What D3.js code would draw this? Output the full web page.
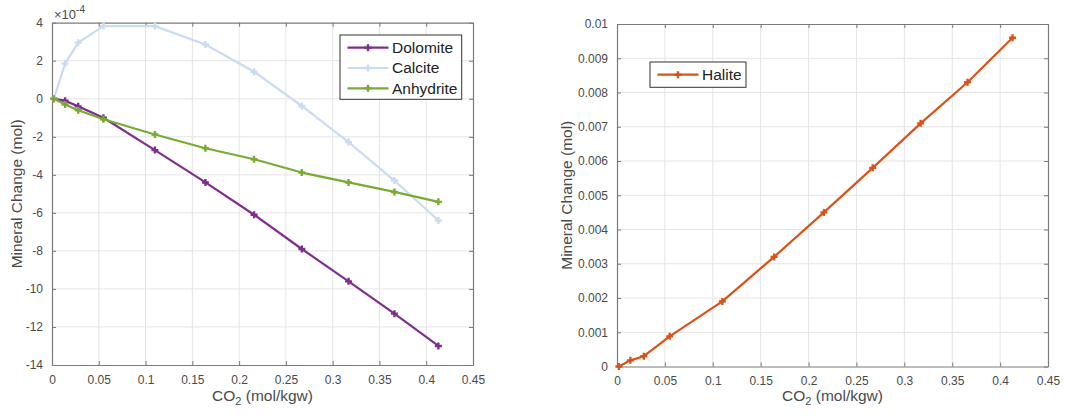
<!DOCTYPE html>
<html><head><meta charset="utf-8">
<script src="https://cdn.jsdelivr.net/npm/d3@7"></script>
<style>body{margin:0;background:#fff;} text{font-family:"Liberation Sans",Arial,sans-serif;}</style>
</head><body>
<svg id="c" width="1069" height="415"></svg>
<script>
const co2 = [0.002, 0.014, 0.028, 0.055, 0.110, 0.164, 0.216, 0.267, 0.317, 0.366, 0.413];
// left panel values (x 1e-4 mol)
const dolomite  = [0, -0.1, -0.4, -1.0, -2.7, -4.4, -6.1, -7.9, -9.6, -11.3, -13.0];
const calcite   = [0, 1.85, 2.95, 3.82, 3.82, 2.85, 1.42, -0.38, -2.28, -4.3, -6.4];
const anhydrite = [0, -0.3, -0.6, -1.08, -1.88, -2.6, -3.18, -3.88, -4.4, -4.9, -5.42];
// right panel values (mol)
const halite    = [0, 0.00018, 0.0003, 0.00088, 0.0019, 0.0032, 0.0045, 0.0058, 0.0071, 0.0083, 0.0096];

const xTicks = [0, 0.05, 0.1, 0.15, 0.2, 0.25, 0.3, 0.35, 0.4, 0.45];
const xTickLabels = ["0","0.05","0.1","0.15","0.2","0.25","0.3","0.35","0.4","0.45"];
const yTicksL = [4, 2, 0, -2, -4, -6, -8, -10, -12, -14];
const yTicksR = [0, 0.001, 0.002, 0.003, 0.004, 0.005, 0.006, 0.007, 0.008, 0.009, 0.01];
const yTickLabelsR = ["0","0.001","0.002","0.003","0.004","0.005","0.006","0.007","0.008","0.009","0.01"];

const seriesL = [
  {name:"Dolomite", values:dolomite, color:"#7E2F8E"},
  {name:"Calcite", values:calcite, color:"#C9DCF3"},
  {name:"Anhydrite", values:anhydrite, color:"#77AC30"}
];
const seriesR = [{name:"Halite", values:halite, color:"#D95319"}];

const svg = d3.select("#c");
const AX = "#7a7a7a", TXT = "#4a4a4a", GRID = "#e4e4e4";

function panel(o){
  const g = svg.append("g");
  const x = d3.scaleLinear().domain([0,0.45]).range([o.x0,o.x1]);
  const y = d3.scaleLinear().domain(o.ydom).range([o.y1,o.y0]);
  // grid
  g.append("g").selectAll("line").data(o.xt.slice(1,-1)).join("line")
    .attr("x1",d=>x(d)).attr("x2",d=>x(d)).attr("y1",o.y0).attr("y2",o.y1)
    .attr("stroke",GRID).attr("stroke-width",1);
  g.append("g").selectAll("line").data(o.yt.filter(d=>d!==o.ydom[0]&&d!==o.ydom[1])).join("line")
    .attr("x1",o.x0).attr("x2",o.x1).attr("y1",d=>y(d)).attr("y2",d=>y(d))
    .attr("stroke",GRID).attr("stroke-width",1);
  // axes
  const fmtX = d=>o.xl[o.xt.indexOf(d)];
  const fmtY = d=>o.yl ? o.yl[o.yt.indexOf(d)] : String(d);
  const ax = [
    g.append("g").attr("transform",`translate(0,${o.y1})`).call(d3.axisBottom(x).tickValues(o.xt).tickFormat(fmtX).tickSizeInner(-4).tickSizeOuter(0).tickPadding(10)),
    g.append("g").attr("transform",`translate(0,${o.y0})`).call(d3.axisTop(x).tickValues(o.xt).tickFormat("").tickSizeInner(-4).tickSizeOuter(0)),
    g.append("g").attr("transform",`translate(${o.x0},0)`).call(d3.axisLeft(y).tickValues(o.yt).tickFormat(fmtY).tickSizeInner(-4).tickSizeOuter(0).tickPadding(9)),
    g.append("g").attr("transform",`translate(${o.x1},0)`).call(d3.axisRight(y).tickValues(o.yt).tickFormat("").tickSizeInner(-4).tickSizeOuter(0))
  ];
  ax.forEach(a=>{
    a.selectAll("path").attr("stroke",AX).attr("stroke-width",1.2);
    a.selectAll("line").attr("stroke",AX);
    a.selectAll("text").attr("fill",TXT).style("font-size","12px").style("font-family","Liberation Sans, Arial, sans-serif");
  });
  // lines
  const line = d3.line().x((d,i)=>x(co2[i])).y(d=>y(d));
  o.series.forEach(s=>{
    g.append("path").datum(s.values).attr("d",line).attr("fill","none")
      .attr("stroke",s.color).attr("stroke-width",2.2).attr("stroke-linejoin","round");
    g.append("g").selectAll("path").data(s.values).join("path")
      .attr("transform",(d,i)=>`translate(${x(co2[i])},${y(d)})`)
      .attr("d","M-3.5,0H3.5M0,-3.5V3.5").attr("stroke",s.color).attr("stroke-width",2.4);
  });
  // labels
  const xlab = g.append("text").attr("x",(o.x0+o.x1)/2).attr("y",401).attr("text-anchor","middle")
    .attr("fill",TXT).style("font-size","15.5px");
  xlab.append("tspan").text("CO");
  xlab.append("tspan").attr("dy",4).style("font-size","11px").text("2");
  xlab.append("tspan").attr("dy",-4).text(" (mol/kgw)");
  g.append("text").attr("transform",`translate(${o.ylx},${(o.y0+o.y1)/2}) rotate(-90)`)
    .attr("text-anchor","middle").attr("fill",TXT).style("font-size","15.5px").text("Mineral Change (mol)");
  // legend
  const L = o.leg;
  g.append("rect").attr("x",L.x).attr("y",L.y).attr("width",L.w).attr("height",L.h)
    .attr("fill","#fff").attr("stroke","#333").attr("stroke-width",1);
  o.series.forEach((s,i)=>{
    const cy = L.y + L.first + i*20.3;
    g.append("line").attr("x1",L.x+7.5).attr("x2",L.x+48.5).attr("y1",cy).attr("y2",cy)
      .attr("stroke",s.color).attr("stroke-width",2.2);
    g.append("path").attr("transform",`translate(${L.x+28},${cy})`)
      .attr("d","M-3.5,0H3.5M0,-3.5V3.5").attr("stroke",s.color).attr("stroke-width",2.4);
    g.append("text").attr("x",L.x+52).attr("y",cy+5.3).attr("fill","#222").style("font-size","15.5px").text(s.name);
  });
  return {g,x,y};
}

const pL = panel({x0:52,x1:473,y0:22.7,y1:365,ydom:[-14,4],xt:xTicks,xl:xTickLabels,yt:yTicksL,
  series:seriesL, ylx:21.5, leg:{x:340,y:35,w:121.7,h:64.3,first:12.7}});
const pR = panel({x0:617,x1:1048,y0:24,y1:366.5,ydom:[0,0.01],xt:xTicks,xl:xTickLabels,yt:yTicksR,yl:yTickLabelsR,
  series:seriesR, ylx:571.5, leg:{x:650,y:62,w:96,h:25.3,first:12.7}});

// exponent label
const ex = svg.append("text").attr("x",54).attr("y",18.5).attr("fill",TXT).style("font-size","13px");
ex.append("tspan").text("\u00d710");
ex.append("tspan").attr("dy",-6).style("font-size","10px").text("-4");
</script>
</body></html>
